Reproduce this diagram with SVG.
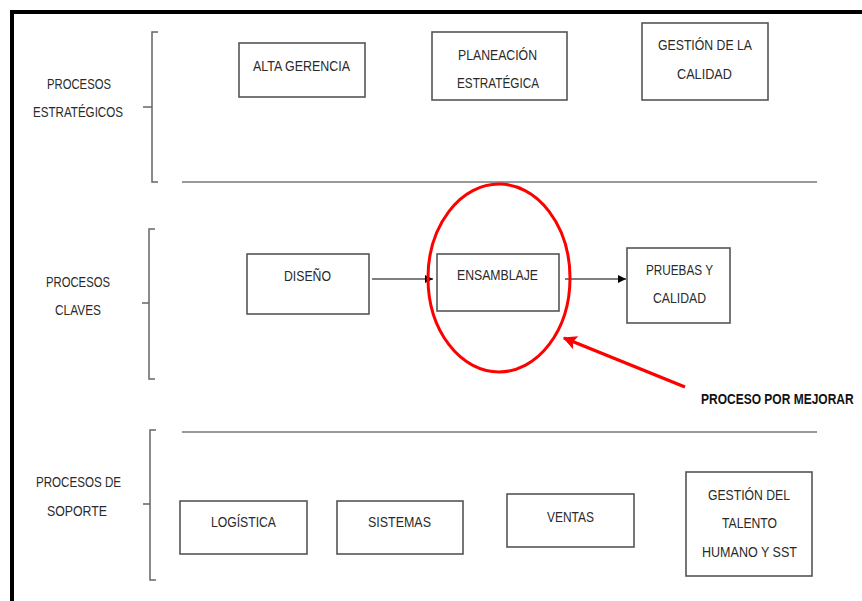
<svg xmlns="http://www.w3.org/2000/svg" width="862" height="601" viewBox="0 0 862 601">
  <defs>
    <marker id="arrow" viewBox="0 0 10 10" refX="10" refY="5" markerWidth="8" markerHeight="8" markerUnits="userSpaceOnUse" orient="auto">
      <path d="M0,0 L10,5 L0,10 z" fill="#000"/>
    </marker>
    <marker id="arrow-red" viewBox="0 0 10 10" refX="9" refY="5" markerWidth="16" markerHeight="14" markerUnits="userSpaceOnUse" orient="auto">
      <path d="M0,0 L10,5 L0,10 L2,5 z" fill="#f00"/>
    </marker>
  </defs>
  <style>
    .box { fill: #fff; stroke: #555; stroke-width: 1.6; }
    .t { font-family: "Liberation Sans", Arial, sans-serif; font-size: 15px; fill: #2a2a2a; }
    .b { font-weight: bold; fill: #111; }
    .brace { fill: none; stroke: #666; stroke-width: 1.5; }
    .rule { stroke: #777; stroke-width: 1.5; }
    .conn { stroke: #555; stroke-width: 1.5; fill: none; }
  </style>

  <rect width="862" height="601" fill="#fff"/>

  <!-- outer frame (top and left edges) -->
  <path d="M12,601 V12 H862" fill="none" stroke="#000" stroke-width="4"/>

  <!-- level labels and braces -->
  <g id="strategic-label">
    <text class="t" x="47" y="89" textLength="64" lengthAdjust="spacingAndGlyphs">PROCESOS</text>
    <text class="t" x="33" y="117" textLength="90" lengthAdjust="spacingAndGlyphs">ESTRATÉGICOS</text>
    <path class="brace" d="M158,32 H152 V182 H158 M143,107 H152"/>
  </g>
  <g id="key-label">
    <text class="t" x="46" y="287" textLength="64" lengthAdjust="spacingAndGlyphs">PROCESOS</text>
    <text class="t" x="55" y="315" textLength="46" lengthAdjust="spacingAndGlyphs">CLAVES</text>
    <path class="brace" d="M155,229 H149 V379 H155 M142,303 H149"/>
  </g>
  <g id="support-label">
    <text class="t" x="36" y="487" textLength="85" lengthAdjust="spacingAndGlyphs">PROCESOS DE</text>
    <text class="t" x="47" y="516" textLength="60" lengthAdjust="spacingAndGlyphs">SOPORTE</text>
    <path class="brace" d="M156,430 H150 V580 H156 M143,504 H150"/>
  </g>

  <!-- separators between levels -->
  <line class="rule" x1="182" y1="182" x2="817" y2="182"/>
  <line class="rule" x1="182" y1="432" x2="817" y2="432"/>

  <!-- strategic processes -->
  <g id="alta-gerencia">
    <rect class="box" x="239" y="43" width="126" height="54"/>
    <text class="t" x="253" y="71" textLength="97" lengthAdjust="spacingAndGlyphs">ALTA GERENCIA</text>
  </g>
  <g id="planeacion">
    <rect class="box" x="432" y="32" width="135" height="68"/>
    <text class="t" x="458" y="60" textLength="79" lengthAdjust="spacingAndGlyphs">PLANEACIÓN</text>
    <text class="t" x="457" y="88" textLength="82" lengthAdjust="spacingAndGlyphs">ESTRATÉGICA</text>
  </g>
  <g id="gestion-calidad">
    <rect class="box" x="642" y="23" width="126" height="77"/>
    <text class="t" x="658" y="50" textLength="94" lengthAdjust="spacingAndGlyphs">GESTIÓN DE LA</text>
    <text class="t" x="677" y="79" textLength="55" lengthAdjust="spacingAndGlyphs">CALIDAD</text>
  </g>

  <!-- key processes -->
  <g id="diseno">
    <rect class="box" x="247" y="254" width="122" height="60"/>
    <text class="t" x="284" y="281" textLength="47" lengthAdjust="spacingAndGlyphs">DISEÑO</text>
  </g>
  <g id="ensamblaje">
    <rect class="box" x="437" y="254" width="122" height="57"/>
    <text class="t" x="457" y="280" textLength="81" lengthAdjust="spacingAndGlyphs">ENSAMBLAJE</text>
  </g>
  <g id="pruebas">
    <rect class="box" x="627" y="248" width="103" height="75"/>
    <text class="t" x="646" y="275" textLength="67" lengthAdjust="spacingAndGlyphs">PRUEBAS Y</text>
    <text class="t" x="653" y="303" textLength="53" lengthAdjust="spacingAndGlyphs">CALIDAD</text>
  </g>

  <!-- support processes -->
  <g id="logistica">
    <rect class="box" x="180" y="501" width="127" height="53"/>
    <text class="t" x="211" y="527" textLength="65" lengthAdjust="spacingAndGlyphs">LOGÍSTICA</text>
  </g>
  <g id="sistemas">
    <rect class="box" x="337" y="501" width="126" height="53"/>
    <text class="t" x="368" y="527" textLength="63" lengthAdjust="spacingAndGlyphs">SISTEMAS</text>
  </g>
  <g id="ventas">
    <rect class="box" x="507" y="494" width="127" height="53"/>
    <text class="t" x="547" y="522" textLength="47" lengthAdjust="spacingAndGlyphs">VENTAS</text>
  </g>
  <g id="talento-humano">
    <rect class="box" x="686" y="472" width="126" height="104"/>
    <text class="t" x="708" y="500" textLength="82" lengthAdjust="spacingAndGlyphs">GESTIÓN DEL</text>
    <text class="t" x="722" y="528" textLength="55" lengthAdjust="spacingAndGlyphs">TALENTO</text>
    <text class="t" x="702" y="557" textLength="95" lengthAdjust="spacingAndGlyphs">HUMANO Y SST</text>
  </g>

  <!-- flow between key processes -->
  <g id="connectors">
    <line class="conn" x1="372" y1="279" x2="433" y2="279" marker-end="url(#arrow)"/>
    <line class="conn" x1="565" y1="279" x2="626" y2="279" marker-end="url(#arrow)"/>
  </g>

  <!-- highlight of the process to improve -->
  <g id="highlight">
    <ellipse cx="499" cy="278" rx="71" ry="94" fill="none" stroke="#f00" stroke-width="3"/>
    <line x1="685" y1="387" x2="564" y2="338" stroke="#f00" stroke-width="3.5" marker-end="url(#arrow-red)"/>
    <text class="t b" x="0" y="0" transform="translate(701,404) scale(0.8,1)">PROCESO POR MEJORAR</text>
  </g>
</svg>
